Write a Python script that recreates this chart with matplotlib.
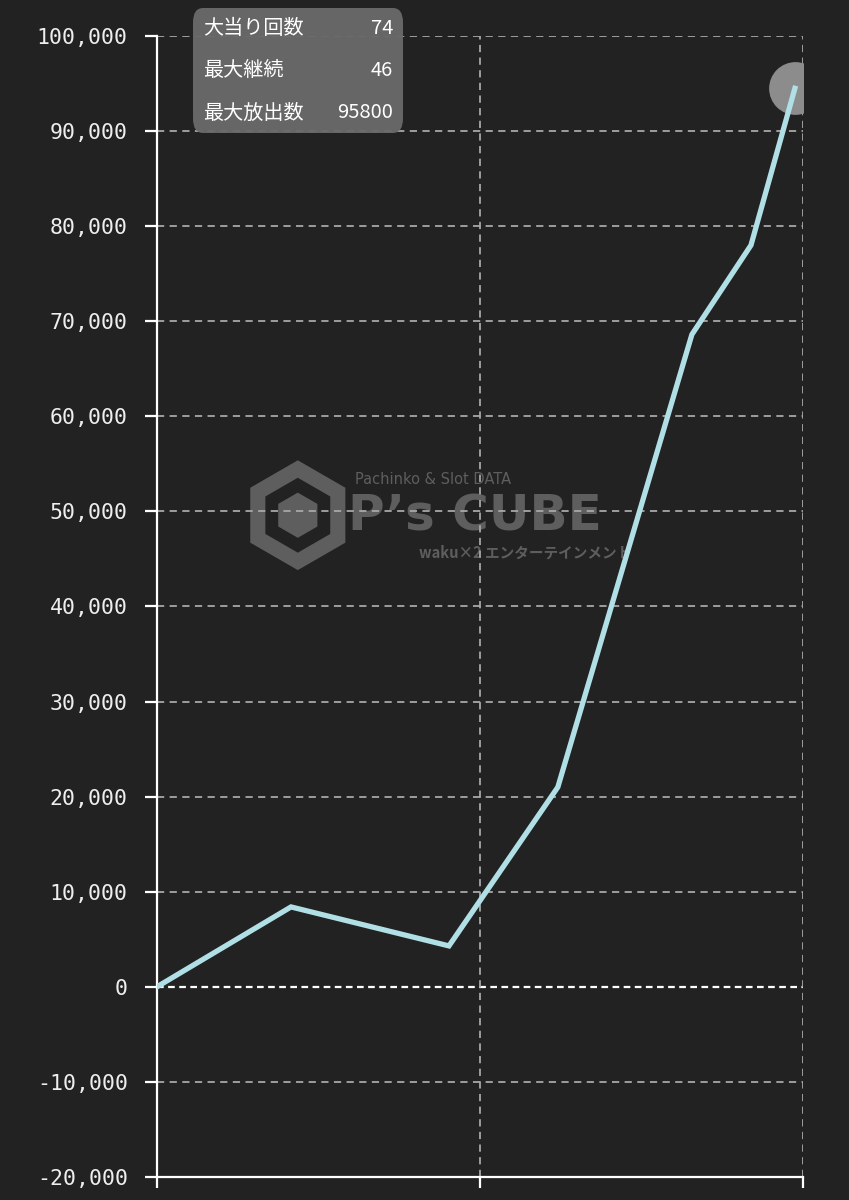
import matplotlib
matplotlib.use("Agg")
import matplotlib.pyplot as plt
from matplotlib.patches import FancyBboxPatch, Polygon
from matplotlib.ticker import FuncFormatter
import numpy as np

# data
x_vals = [0.0, 0.415, 0.904, 1.241, 1.656, 1.839, 1.975]
y_vals = [0, 8400, 4300, 21000, 68600, 78000, 94500]
y_ticks = list(range(-20000, 100001, 10000))
x_ticks = [0, 1, 2]
info_labels = ["大当り回数", "最大継続", "最大放出数"]
info_values = ["74", "46", "95800"]

BG = "#222222"
fig = plt.figure(figsize=(8.49, 12), dpi=100, facecolor=BG)
ax = fig.add_axes([0.1849, 0.0192, 0.7609, 0.9508])
ax.set_facecolor(BG)
ax.set_xlim(0, 2)
ax.set_ylim(-20000, 100000)

# grid
for yt in y_ticks:
    if yt == 0:
        ax.axhline(yt, color="white", lw=1.6, ls=(0, (3, 2)), zorder=1)
    elif yt > -20000:
        ax.axhline(yt, color="#a8a8a8", lw=1.3, ls=(0, (4, 3)), zorder=1)
for xt in x_ticks[1:]:
    ax.axvline(xt, color="#a8a8a8", lw=1.3, ls=(0, (4, 3)), zorder=1)

# watermark
wm = "#5e5e5e"
ax.text(0.306, 0.611, "Pachinko & Slot DATA", transform=ax.transAxes, color=wm,
        fontsize=10.5, fontfamily="DejaVu Sans", va="center", zorder=0.5)
ax.text(0.295, 0.579, "P’s CUBE", transform=ax.transAxes, color=wm, fontsize=36,
        fontweight="bold", fontfamily="DejaVu Sans", va="center", zorder=0.5)
ax.text(0.405, 0.547, "waku×2 エンターテインメント", transform=ax.transAxes, color=wm,
        fontsize=10.5, family=["Noto Sans CJK JP", "DejaVu Sans"], fontweight="bold",
        va="center", zorder=0.5)
# hexagon logo (in pixel-like aspect)
asp = (0.7609 * 849) / (0.9508 * 1200)
cx, cy = 0.218, 0.58
angs = np.deg2rad(np.arange(90, 450, 60))
def hexpts(r):
    return [(cx + r * np.cos(a), cy + r * np.sin(a) * asp) for a in angs]
ax.add_patch(Polygon(hexpts(0.085), closed=True, transform=ax.transAxes,
                     facecolor=wm, edgecolor="none", zorder=0.5))
ax.add_patch(Polygon(hexpts(0.058), closed=True, transform=ax.transAxes,
                     facecolor=BG, edgecolor="none", zorder=0.5))
ax.add_patch(Polygon(hexpts(0.035), closed=True, transform=ax.transAxes,
                     facecolor=wm, edgecolor="none", zorder=0.5))

# line
ax.plot(x_vals, y_vals, color="#b0e0e6", lw=3.8, solid_joinstyle="miter", zorder=3)
ax.plot([x_vals[-1]], [y_vals[-1]], marker="o", ms=38, color="#8c8c8c",
        markeredgewidth=0, zorder=2.5, clip_on=True)

# axes styling
for s in ["top", "right"]:
    ax.spines[s].set_visible(False)
for s in ["left", "bottom"]:
    ax.spines[s].set_color("white")
    ax.spines[s].set_linewidth(1.6)
ax.set_yticks(y_ticks)
ax.set_xticks(x_ticks)
ax.set_xticklabels([])
ax.yaxis.set_major_formatter(FuncFormatter(lambda v, p: f"{int(v):,}"))
ax.tick_params(axis="y", colors="white", length=9, width=1.6, pad=12,
               labelsize=15.5, labelcolor="#eeeeee")
ax.tick_params(axis="x", colors="white", length=8, width=1.6)
for lab in ax.get_yticklabels():
    lab.set_fontfamily("DejaVu Sans Mono")

# info box
box = FancyBboxPatch((193 / 849, 1 - 133 / 1200), 210 / 849, 125 / 1200,
                     boxstyle="round,pad=0,rounding_size=0.012",
                     transform=fig.transFigure, facecolor="#6a6a6a", alpha=0.95,
                     edgecolor="none", zorder=10)
fig.patches.append(box)
row_y = [28, 70, 113]
for lab, val, yy in zip(info_labels, info_values, row_y):
    fig.text(203 / 849, 1 - yy / 1200, lab, color="white", fontsize=14.5,
             family=["Noto Sans CJK JP", "DejaVu Sans"], va="center", ha="left", zorder=11)
    fig.text(393 / 849, 1 - yy / 1200, val, color="white", fontsize=14.5,
             family=["Noto Sans CJK JP", "DejaVu Sans"], va="center", ha="right", zorder=11)

fig.savefig("out.png", dpi=100, facecolor=BG)
